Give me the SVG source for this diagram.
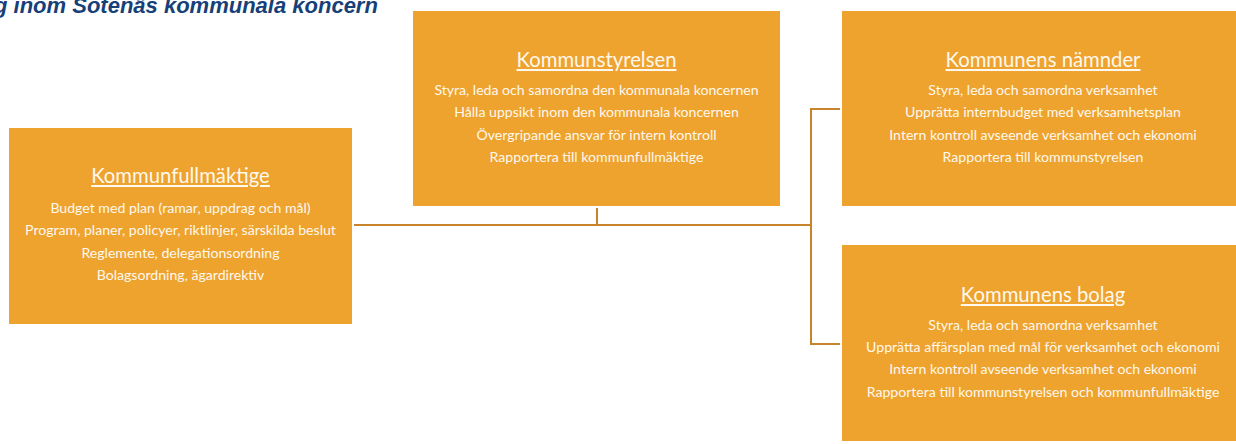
<svg xmlns="http://www.w3.org/2000/svg" width="1236" height="444" viewBox="0 0 1236 444">
<style>
.box{fill:#EEA32F;}
.t{font-family:Lato,"Liberation Sans",sans-serif;fill:#FFF8EC;text-anchor:middle;}
.h{font-size:20.3px;text-decoration:underline;}
.b{font-size:14.1px;}
.conn{stroke:#C8842A;stroke-width:2;fill:none;}
.title{font-family:"Liberation Sans",sans-serif;font-style:italic;font-weight:bold;font-size:22px;fill:#173F78;}
</style>
<rect width="1236" height="444" fill="#ffffff"/>
<text class="title" x="-6" y="13">g inom Sotenäs kommunala koncern</text>
<g id="connectors">
<path class="conn" d="M354 225 H811"/>
<path class="conn" d="M597 208 V225"/>
<path class="conn" d="M811 109 V344"/>
<path class="conn" d="M810 109 H840"/>
<path class="conn" d="M810 344 H840"/>
</g>
<g id="kommunfullmaktige">
<rect class="box" x="9" y="128" width="343" height="196"/>
<text class="t h" x="180.5" y="183">Kommunfullmäktige</text>
<text class="t b" x="180.5" y="213">Budget med plan (ramar, uppdrag och mål)</text>
<text class="t b" x="180.5" y="235.3">Program, planer, policyer, riktlinjer, särskilda beslut</text>
<text class="t b" x="180.5" y="257.6">Reglemente, delegationsordning</text>
<text class="t b" x="180.5" y="280">Bolagsordning, ägardirektiv</text>
</g>
<g id="kommunstyrelsen">
<rect class="box" x="413" y="11" width="367" height="195"/>
<text class="t h" x="596.5" y="67">Kommunstyrelsen</text>
<text class="t b" x="596.5" y="95">Styra, leda och samordna den kommunala koncernen</text>
<text class="t b" x="596.5" y="117.3">Hålla uppsikt inom den kommunala koncernen</text>
<text class="t b" x="596.5" y="139.6">Övergripande ansvar för intern kontroll</text>
<text class="t b" x="596.5" y="162">Rapportera till kommunfullmäktige</text>
</g>
<g id="namnder">
<rect class="box" x="842" y="11" width="400" height="195"/>
<text class="t h" x="1043" y="67">Kommunens nämnder</text>
<text class="t b" x="1043" y="95">Styra, leda och samordna verksamhet</text>
<text class="t b" x="1043" y="117.3">Upprätta internbudget med verksamhetsplan</text>
<text class="t b" x="1043" y="139.6">Intern kontroll avseende verksamhet och ekonomi</text>
<text class="t b" x="1043" y="162">Rapportera till kommunstyrelsen</text>
</g>
<g id="bolag">
<rect class="box" x="842" y="245" width="400" height="196"/>
<text class="t h" x="1043" y="302">Kommunens bolag</text>
<text class="t b" x="1043" y="329.5">Styra, leda och samordna verksamhet</text>
<text class="t b" x="1043" y="351.8">Upprätta affärsplan med mål för verksamhet och ekonomi</text>
<text class="t b" x="1043" y="374.1">Intern kontroll avseende verksamhet och ekonomi</text>
<text class="t b" x="1043" y="396.5">Rapportera till kommunstyrelsen och kommunfullmäktige</text>
</g>
</svg>
